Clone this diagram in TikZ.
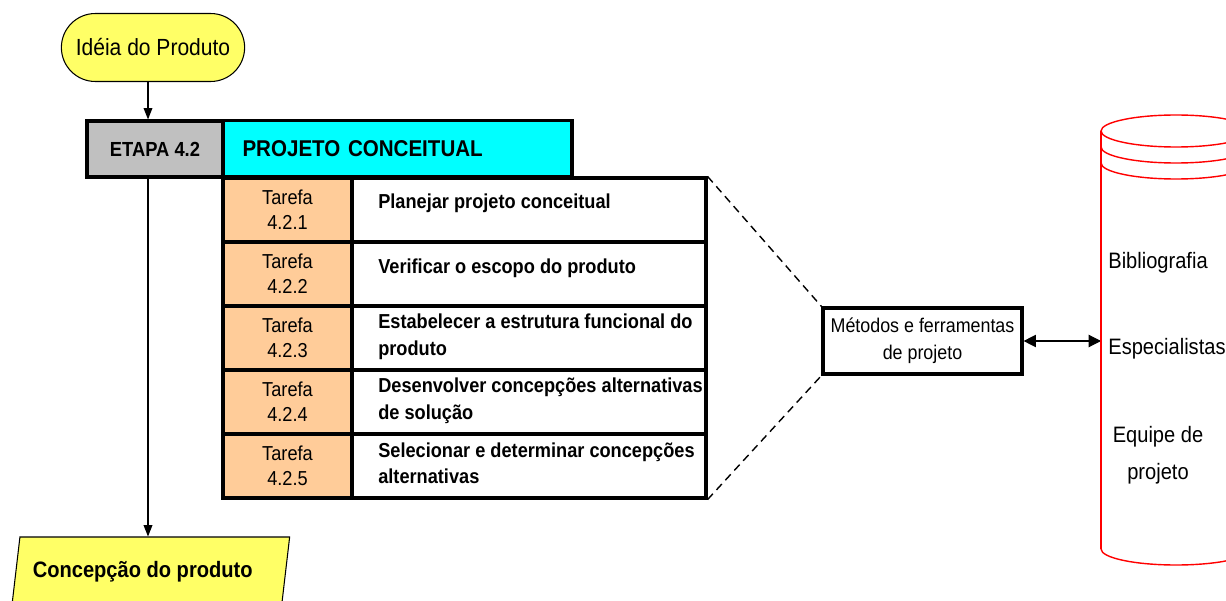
\documentclass[tikz,border=0pt]{standalone}
\usepackage{fontspec}
\setmainfont{Liberation Sans}[FakeStretch=0.9]
\usetikzlibrary{shapes.geometric,shapes.misc,arrows.meta,positioning}

\definecolor{amarelo}{HTML}{FFFF66}
\definecolor{ciano}{HTML}{00FFFF}
\definecolor{cinza}{HTML}{C0C0C0}
\definecolor{salmao}{HTML}{FFCC99}

\tikzset{
  caixa/.style={draw,line width=1.8pt,inner sep=0pt},
  fina/.style={line width=0.6pt},
  seta/.style={fina,-{Triangle[length=6.5pt,width=5pt]}},
  tarefa/.style={caixa,fill=salmao,minimum width=2.58cm,minimum height=1.28cm,align=center,
    font=\fontsize{11.5}{14.2}\selectfont},
  desc/.style={caixa,fill=white,minimum width=7.08cm,minimum height=1.28cm},
  desctexto/.style={anchor=west,inner sep=0pt,align=left,font=\bfseries\fontsize{11.5}{15.1}\selectfont},
  banco/.style={inner sep=0pt,font=\fontsize{12.7}{21}\selectfont}
}

\begin{document}
\begin{tikzpicture}[x=0.02cm,y=-0.02cm]
\useasboundingbox (0,0) rectangle (1226,601);
\coordinate (eixo) at (148,0); % linha vertical da etapa
\coordinate (bancow) at (1101,0); % lado esquerdo do banco

\node[rounded rectangle,draw,fina,fill=amarelo,minimum width=3.9cm,minimum height=1.36cm,
  font=\fontsize{13.3}{15}\selectfont] (ideia) at (153,47.5) {Idéia do Produto};
\node[caixa,fill=cinza,minimum width=2.72cm,minimum height=1.12cm,
  font=\bfseries\fontsize{11.6}{13}\selectfont] (etapa) at (155,149) {ETAPA 4.2};
\node[caixa,fill=ciano,minimum height=1.12cm,text width=6.2cm,inner xsep=0.39cm,align=left,
  font=\bfseries\fontsize{13}{16}\selectfont] (projeto) at (397.5,148.5) {PROJETO CONCEITUAL};

\foreach \i/\txt/\dy in {1/{Planejar projeto conceitual}/3.6pt,
  2/{Verificar o escopo do produto}/3.4pt,
  3/{Estabelecer a estrutura funcional do\\produto}/0.6pt,
  4/{Desenvolver concepções alternativas\\de solução}/0.6pt,
  5/{Selecionar e determinar concepções\\alternativas}/1.5pt}{
  \node[tarefa] (t\i) at (287.5,{210+64*(\i-1)}) {Tarefa\\4.2.\i};
  \node[desc] (d\i) at (529,{210+64*(\i-1)}) {};
  \node[desctexto,yshift=\dy] (dt\i) at ([xshift=0.55cm]d\i.west) {\txt};
}

\node[caixa,minimum width=3.98cm,minimum height=1.32cm,align=center,
  font=\fontsize{11.3}{15.3}\selectfont] (metodos) at (922.5,341) {Métodos e ferramentas\\de projeto};
\draw[dashed,dash pattern=on 4.5pt off 3pt,line width=0.8pt] (d1.north east) -- (metodos.north west);
\draw[dashed,dash pattern=on 4.5pt off 3pt,line width=0.8pt] (d5.south east) -- (metodos.south west);
\draw[fina,{Triangle[length=7pt,width=7pt]}-{Triangle[length=7pt,width=7pt]}]
  (metodos.east) -- (metodos.east -| bancow);

% banco de dados
\draw[red,line width=0.8pt] (1101,131) -- (1101,549);
\draw[red,line width=0.8pt] (1251,131) -- (1251,549);
\draw[red,line width=0.8pt] (1176,131) ellipse [x radius=75,y radius=16];
\draw[red,line width=0.8pt] (1101,147) arc[start angle=180,end angle=0,x radius=75,y radius=16];
\draw[red,line width=0.8pt] (1101,163) arc[start angle=180,end angle=0,x radius=75,y radius=16];
\draw[red,line width=0.8pt] (1101,549) arc[start angle=180,end angle=0,x radius=75,y radius=16];
\node[banco,anchor=base west] (biblio) at (1108,268) {Bibliografia};
\node[banco,anchor=base west] (espec) at (1108,354) {Especialistas};
\node[banco,align=center] (equipe) at (1158,455) {Equipe de\\projeto};

\node[trapezium,trapezium left angle=76.6,trapezium right angle=103.4,trapezium stretches=true,
  draw,fina,fill=amarelo,minimum width=5.57cm,minimum height=1.4cm,
  font=\bfseries\fontsize{12.7}{15}\selectfont] (concepcao) at (150.7,572) {Concepção do produto\hspace*{0.32cm}};

\draw[seta] (ideia.south -| eixo) -- (etapa.north -| eixo);
\draw[seta] (etapa.south -| eixo) -- (concepcao.north -| eixo);
\end{tikzpicture}
\end{document}
